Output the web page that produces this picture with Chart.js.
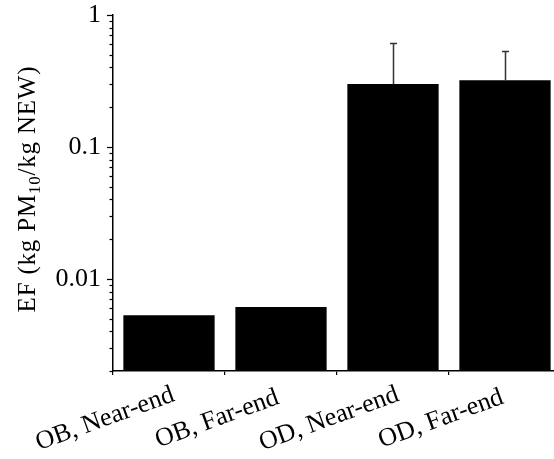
<!DOCTYPE html>
<html>
<head>
<meta charset="utf-8">
<script src="https://cdn.jsdelivr.net/npm/chart.js@4"></script>
<style>
  html, body { margin: 0; padding: 0; background: #fff; overflow: hidden; }
  #wrap { width: 554px; height: 459px; overflow: hidden; }
</style>
</head>
<body>
<div id="wrap"><canvas id="ef-chart" width="570" height="459"></canvas></div>
<script>
var categories = ['OB, Near-end', 'OB, Far-end', 'OD, Near-end', 'OD, Far-end'];
var efValues = [0.0053, 0.0061, 0.30, 0.32];
var efErrors = [0, 0, 0.31, 0.21];
var yTickValues = [0.002, 0.003, 0.004, 0.005, 0.006, 0.007, 0.008, 0.009,
                   0.01, 0.02, 0.03, 0.04, 0.05, 0.06, 0.07, 0.08, 0.09,
                   0.1, 0.2, 0.3, 0.4, 0.5, 0.6, 0.7, 0.8, 0.9, 1];
var yMajorTicks = [1, 0.1, 0.01];
var yMajorLabels = ['1', '0.1', '0.01'];

var serif = '"Liberation Serif", "Times New Roman", serif';

function isMajor(v) {
    return yMajorTicks.some(function (m) { return Math.abs(m - v) < m * 1e-6; });
}

// tick marks on the log axis, long at decades, short between
var yTickMarks = {
    id: 'yTickMarks',
    afterDraw: function (chart) {
        var y = chart.scales.y;
        var c = chart.ctx;
        c.save();
        c.strokeStyle = '#000';
        c.lineWidth = 1.2;
        y.ticks.forEach(function (t) {
            var py = Math.round(y.getPixelForValue(t.value)) + 0.5;
            var len = isMajor(t.value) ? 6 : 3.5;
            c.beginPath();
            c.moveTo(y.right - len, py);
            c.lineTo(y.right, py);
            c.stroke();
        });
        c.restore();
    }
};

var errorBars = {
    id: 'errorBars',
    afterDatasetsDraw: function (chart) {
        var y = chart.scales.y;
        var meta = chart.getDatasetMeta(0);
        var c = chart.ctx;
        c.save();
        c.strokeStyle = '#333';
        c.lineWidth = 1.5;
        efErrors.forEach(function (err, i) {
            if (!err) return;
            var x = Math.round(meta.data[i].x) + 0.5;
            var yBar = y.getPixelForValue(efValues[i]);
            var yTop = Math.round(y.getPixelForValue(efValues[i] + err)) + 0.5;
            c.beginPath();
            c.moveTo(x, yBar);
            c.lineTo(x, yTop);
            c.moveTo(x - 3.5, yTop);
            c.lineTo(x + 3.5, yTop);
            c.stroke();
        });
        c.restore();
    }
};

// rotated category labels and the y title with a subscript
var textLayer = {
    id: 'textLayer',
    afterDraw: function (chart) {
        var c = chart.ctx;
        var x = chart.scales.x;
        c.save();
        c.fillStyle = '#000';
        c.font = '26px ' + serif;
        c.textAlign = 'center';
        c.textBaseline = 'middle';
        categories.forEach(function (lab, i) {
            var px = x.getPixelForValue(i) - 64;
            c.save();
            c.translate(px, 419);
            c.rotate(-20 * Math.PI / 180);
            c.fillText(lab, 0, 0);
            c.restore();
        });
        c.restore();

        // y axis title
        var parts = [
            { t: 'EF (kg PM', size: 25, dy: 0 },
            { t: '10', size: 17, dy: 5 },
            { t: '/kg NEW)', size: 25, dy: 0 }
        ];
        c.save();
        c.fillStyle = '#000';
        c.textBaseline = 'alphabetic';
        c.textAlign = 'left';
        if ('letterSpacing' in c) c.letterSpacing = '0.8px';
        var total = 0;
        parts.forEach(function (p) {
            c.font = p.size + 'px ' + serif;
            p.w = c.measureText(p.t).width;
            total += p.w;
        });
        c.translate(35, 189);
        c.rotate(-Math.PI / 2);
        var cx = -total / 2;
        parts.forEach(function (p) {
            c.font = p.size + 'px ' + serif;
            c.fillText(p.t, cx, p.dy);
            cx += p.w;
        });
        c.restore();
    }
};

new Chart(document.getElementById('ef-chart'), {
    type: 'bar',
    data: {
        labels: categories,
        datasets: [{
            label: 'EF',
            data: efValues,
            backgroundColor: '#000',
            borderWidth: 0,
            barPercentage: 0.815,
            categoryPercentage: 1
        }]
    },
    options: {
        responsive: false,
        animation: false,
        layout: { padding: { left: 0, right: 9, top: 15, bottom: 0 } },
        plugins: {
            legend: { display: false },
            tooltip: { enabled: false },
            title: { display: false }
        },
        scales: {
            x: {
                type: 'category',
                offset: true,
                grid: {
                    offset: true,
                    drawOnChartArea: false,
                    drawTicks: true,
                    tickLength: 4,
                    color: '#000',
                    lineWidth: 1.2
                },
                border: { display: true, color: '#000', width: 1.5 },
                ticks: { display: false },
                afterFit: function (s) { s.height = 88; s.paddingLeft = 0; s.paddingRight = 0; }
            },
            y: {
                type: 'logarithmic',
                min: 0.002,
                max: 1,
                grid: { display: false, drawTicks: false },
                border: { display: true, color: '#000', width: 1.5 },
                afterBuildTicks: function (s) {
                    s.ticks = yTickValues.map(function (v) { return { value: v }; });
                },
                ticks: {
                    autoSkip: false,
                    padding: 12,
                    color: '#000',
                    font: { family: serif, size: 26, lineHeight: 1 },
                    callback: function (v) {
                        var k = yMajorTicks.findIndex(function (m) { return Math.abs(m - v) < m * 1e-6; });
                        return k >= 0 ? yMajorLabels[k] : '';
                    }
                },
                afterFit: function (s) { s.width = 113; s.paddingTop = 0; s.paddingBottom = 0; }
            }
        }
    },
    plugins: [yTickMarks, errorBars, textLayer]
});
</script>
</body>
</html>
